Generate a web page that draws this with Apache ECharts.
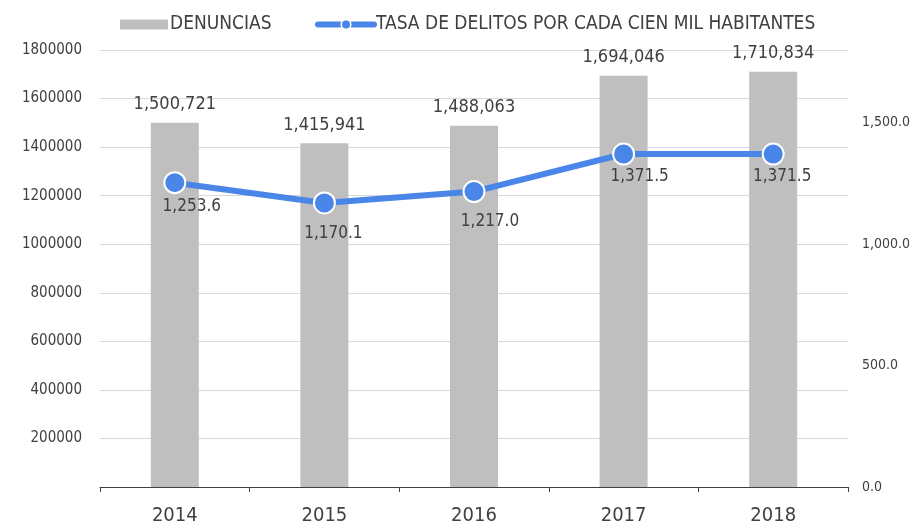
<!DOCTYPE html>
<html>
<head>
<meta charset="utf-8">
<script src="https://cdn.jsdelivr.net/npm/echarts@6/dist/echarts.min.js"></script>
<style>
  html, body { margin: 0; padding: 0; background: #fff; }
  #chart { width: 915px; height: 526px; }
</style>
</head>
<body>
<div id="chart"></div>
<script>
const years = ['2014', '2015', '2016', '2017', '2018']
const denuncias = [1500721, 1415941, 1488063, 1694046, 1710834]
const tasa = [1253.6, 1170.1, 1217.0, 1371.5, 1371.5]

const fontFamily = '"DejaVu Sans Condensed", "DejaVu Sans", sans-serif'
const textColor = '#404040'
const barName = 'DENUNCIAS'
const lineName = 'TASA DE DELITOS POR CADA CIEN MIL HABITANTES'

// excel puts the line labels a bit off to the right/below, mimic that
const lineLabelShift = [[17, 2], [9, 9], [16, 8], [16, 1], [9, 1]]

const chart = echarts.init(document.getElementById('chart'))

const fmtInt = (v) => Number(v).toLocaleString('en-US')
const fmtDec = (v) => Number(v).toLocaleString('en-US', { minimumFractionDigits: 1, maximumFractionDigits: 1 })

const legendText = { fontSize: 19, color: textColor, fontFamily: fontFamily, padding: [0, 0, 0, -3] }

const option = {
  animation: false,
  textStyle: { fontFamily: fontFamily, color: textColor },
  legend: [
    {
      top: 10,
      left: 115,
      itemWidth: 48,
      itemHeight: 10,
      icon: 'rect',
      textStyle: legendText,
      data: [barName]
    },
    {
      top: 10,
      left: 310,
      itemWidth: 56,
      itemHeight: 12,
      textStyle: legendText,
      lineStyle: { width: 6, cap: 'round' },
      itemStyle: { borderColor: '#ffffff', borderWidth: 1.5 },
      data: [lineName]
    }
  ],
  grid: {
    left: 100,
    right: 67,
    top: 50,
    bottom: 36
  },
  xAxis: {
    type: 'category',
    data: years,
    axisLine: { lineStyle: { color: '#404040', width: 1 } },
    axisTick: { show: true, length: 5, lineStyle: { color: '#404040' } },
    axisLabel: { fontSize: 20, color: textColor, margin: 19, fontFamily: fontFamily }
  },
  yAxis: [
    {
      type: 'value',
      min: 0,
      max: 1800000,
      interval: 200000,
      axisLine: { show: false },
      axisTick: { show: false },
      axisLabel: {
        fontSize: 15,
        color: textColor,
        margin: 18,
        showMinLabel: false,
        fontFamily: fontFamily,
        formatter: (v) => String(v)
      },
      splitLine: { lineStyle: { color: '#d9d9d9', width: 1 } }
    },
    {
      type: 'value',
      min: 0,
      max: 1800,
      interval: 500,
      axisLine: { show: false },
      axisTick: { show: false },
      splitLine: { show: false },
      axisLabel: {
        fontSize: 14,
        color: textColor,
        margin: 14,
        showMaxLabel: false,
        fontFamily: fontFamily,
        formatter: (v) => fmtDec(v)
      }
    }
  ],
  series: [
    {
      name: barName,
      type: 'bar',
      data: denuncias,
      barWidth: 48,
      itemStyle: { color: '#bfbfbf' },
      label: {
        show: true,
        position: 'top',
        distance: 9,
        fontSize: 18,
        color: textColor,
        fontFamily: fontFamily,
        formatter: (p) => fmtInt(p.value)
      }
    },
    {
      name: lineName,
      type: 'line',
      yAxisIndex: 1,
      data: tasa.map((v, i) => ({
        value: v,
        label: { offset: lineLabelShift[i] }
      })),
      symbol: 'circle',
      symbolSize: 21,
      lineStyle: { color: '#4a86e8', width: 6 },
      itemStyle: { color: '#4a86e8', borderColor: '#ffffff', borderWidth: 2 },
      label: {
        show: true,
        position: 'bottom',
        distance: 2,
        fontSize: 17,
        color: textColor,
        fontFamily: fontFamily,
        formatter: (p) => fmtDec(p.value)
      }
    }
  ]
}

chart.setOption(option)
</script>
</body>
</html>
